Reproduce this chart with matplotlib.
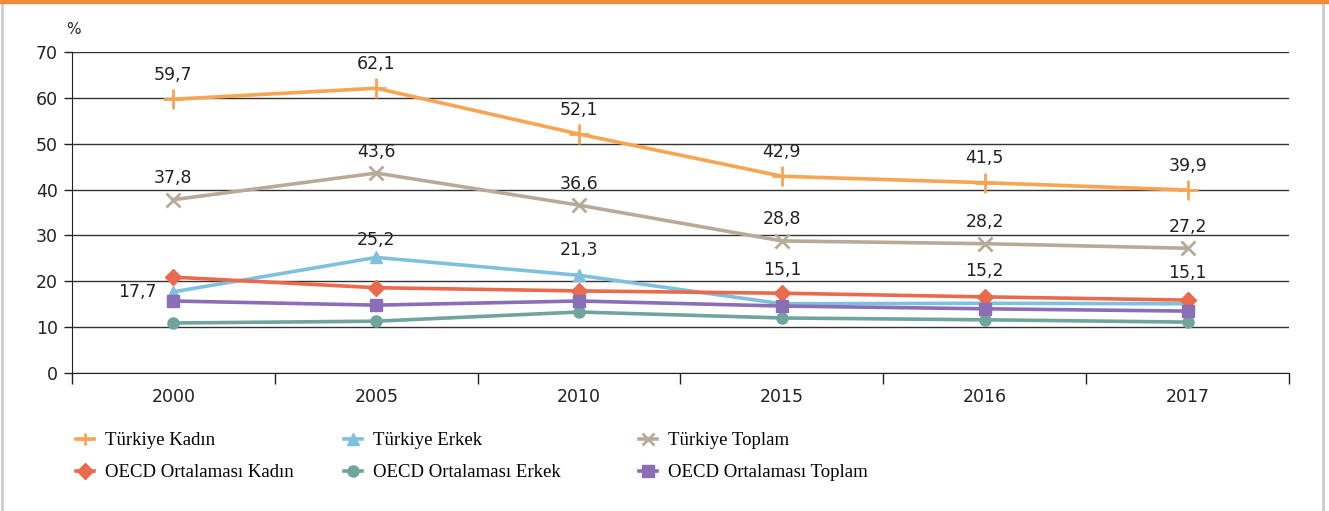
import matplotlib
matplotlib.use("Agg")
import matplotlib.pyplot as plt
from matplotlib.patches import Rectangle
from matplotlib.lines import Line2D

years = ["2000", "2005", "2010", "2015", "2016", "2017"]
tr_kadin = [59.7, 62.1, 52.1, 42.9, 41.5, 39.9]
tr_erkek = [17.7, 25.2, 21.3, 15.1, 15.2, 15.1]
tr_toplam = [37.8, 43.6, 36.6, 28.8, 28.2, 27.2]
oecd_kadin = [20.9, 18.6, 17.9, 17.4, 16.6, 15.9]
oecd_erkek = [10.9, 11.3, 13.3, 12.0, 11.6, 11.1]
oecd_toplam = [15.7, 14.8, 15.7, 14.6, 14.0, 13.5]

names = ["Türkiye Kadın", "Türkiye Erkek", "Türkiye Toplam",
         "OECD Ortalaması Kadın", "OECD Ortalaması Erkek", "OECD Ortalaması Toplam"]

FS = 12.5
fig = plt.figure(figsize=(13.29, 5.11), dpi=100)
ax = fig.add_axes([72/1329, 1-373/511, (1289-72)/1329, (373-52)/511])

x = list(range(len(years)))
styles = [
    (tr_kadin, "#F7A552", "+", 14, 2.0),
    (tr_erkek, "#7FC1DC", "^", 8, 0),
    (tr_toplam, "#B8AA99", "x", 10, 2.0),
    (oecd_kadin, "#E96A4C", "D", 8, 0),
    (oecd_erkek, "#6FA59C", "o", 8, 0),
    (oecd_toplam, "#8A6EB6", "s", 8, 0),
]
handles = []
for (vals, col, mk, ms, mew), name in zip(styles, names):
    h, = ax.plot(x, vals, color=col, lw=2.6, marker=mk, ms=ms,
                 mew=mew if mew else 1, mec=col, mfc=col, label=name, zorder=3)
    handles.append(h)

def fmt(v):
    return f"{v:.1f}".replace(".", ",")

for i, v in enumerate(tr_kadin):
    ax.annotate(fmt(v), (i, v), xytext=(0, 11), textcoords="offset points",
                ha="center", va="bottom", fontsize=FS, color="#222222")
for i, v in enumerate(tr_toplam):
    ax.annotate(fmt(v), (i, v), xytext=(0, 9), textcoords="offset points",
                ha="center", va="bottom", fontsize=FS, color="#222222")
erk_off = [None, (0, 6), (0, 12), (0, 18), (0, 17), (0, 16)]
for i, v in enumerate(tr_erkek):
    if i == 0:
        ax.annotate(fmt(v), (i, v), xytext=(-12, 0), textcoords="offset points",
                    ha="right", va="center", fontsize=FS, color="#222222")
    else:
        ax.annotate(fmt(v), (i, v), xytext=erk_off[i], textcoords="offset points",
                    ha="center", va="bottom", fontsize=FS, color="#222222")

ax.set_xlim(-0.5, len(years) - 0.5)
ax.set_ylim(0, 70)
ax.set_yticks(range(0, 71, 10))
ax.set_yticklabels([str(t) for t in range(0, 71, 10)], fontsize=FS, color="#222222")
ax.set_xticks(x)
ax.set_xticklabels(years, fontsize=FS, color="#222222")
ax.set_xticks([i - 0.5 for i in range(len(years) + 1)], minor=True)
ax.tick_params(axis="x", which="major", length=0, pad=11)
ax.tick_params(axis="x", which="minor", length=8, width=1, color="#222222", direction="out")
ax.tick_params(axis="y", length=6, width=1, color="#222222", pad=4)
ax.grid(axis="y", color="#333333", lw=1)
ax.set_axisbelow(True)
for s in ["top", "right"]:
    ax.spines[s].set_visible(False)
ax.spines["left"].set_color("#222222")
ax.spines["bottom"].set_color("#222222")

fig.text(66/1329, 1-30/511, "%", fontsize=11, color="#222222", ha="left", va="center")

# legend: three columns, each its own legend
col_x = [76, 344, 639]
for c in range(3):
    hs = [handles[c], handles[c + 3]]
    ls = [names[c], names[c + 3]]
    leg = fig.legend(hs, ls, loc="upper left",
                     bbox_to_anchor=(col_x[c]/1329, 1-432/511),
                     frameon=False, handlelength=0.95, handletextpad=0.6,
                     labelspacing=0.8, borderpad=0, borderaxespad=0,
                     prop={"family": "Liberation Serif", "size": 13.5})
    for h in leg.legend_handles:
        h.set_markersize(8)

# frame decorations
fig.add_artist(Rectangle((0, 1-3/511), 1, 3/511, transform=fig.transFigure,
                         color="#F08A3A", zorder=10))
fig.add_artist(Line2D([2/1329, 2/1329], [0, 1-3/511], transform=fig.transFigure,
                      color="#CCCCCC", lw=2))
fig.add_artist(Line2D([1323/1329, 1323/1329], [0, 1-3/511], transform=fig.transFigure,
                      color="#CCCCCC", lw=2))

fig.savefig("out.png", dpi=100)
